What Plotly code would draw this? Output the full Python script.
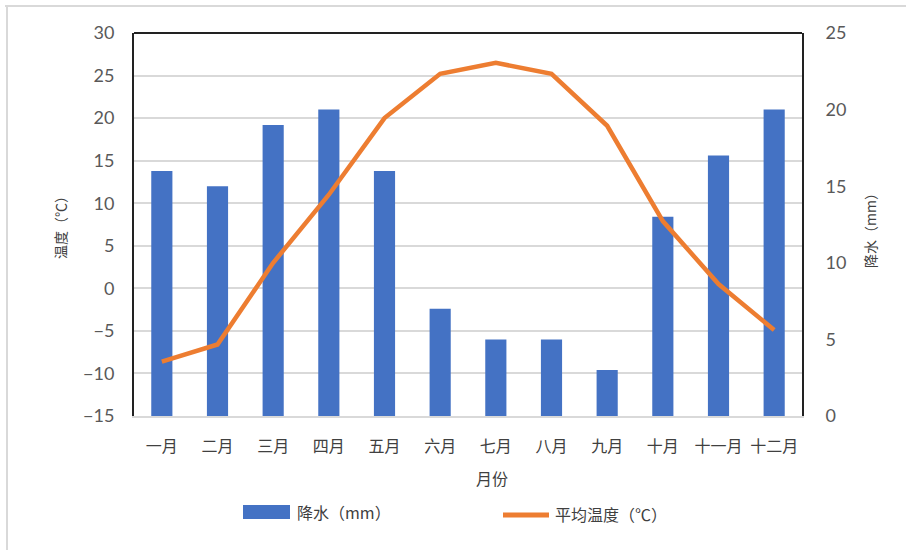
import plotly.graph_objects as go

# Monthly climate data
months = ["一月", "二月", "三月", "四月", "五月", "六月",
          "七月", "八月", "九月", "十月", "十一月", "十二月"]
precip_mm = [16, 15, 19, 20, 16, 7, 5, 5, 3, 13, 17, 20]
temp_c = [-8.6, -6.6, 3.0, 11.0, 20.0, 25.2, 26.5, 25.2, 19.1, 7.9, 0.5, -4.9]

temp_ticks = [-15, -10, -5, 0, 5, 10, 15, 20, 25, 30]
precip_ticks = [0, 5, 10, 15, 20, 25]

BLUE = "#4472C4"
ORANGE = "#ED7D31"
CJK = "Noto Sans CJK SC"
NUM = "Lato"

W, H = 906, 550
L, R, T, B = 134, 104, 33, 134
pw, ph = W - L - R, H - T - B


def px(x):
    return (x - L) / pw


def py(y):
    return (H - B - y) / ph


fig = go.Figure()

# precipitation bars on the base (right-hand) axis
fig.add_trace(go.Bar(
    x=months, y=precip_mm, name="降水（mm）", yaxis="y",
    marker=dict(color=BLUE, line=dict(width=0)), width=0.38,
))
# temperature line on the overlaid (left-hand) axis so it sits above the bars
fig.add_trace(go.Scatter(
    x=months, y=temp_c, name="平均温度（℃）", yaxis="y2",
    mode="lines", line=dict(color=ORANGE, width=4.5),
))

fig.update_layout(
    width=W, height=H,
    margin=dict(l=L, r=R, t=T, b=B, autoexpand=False),
    paper_bgcolor="white", plot_bgcolor="white",
    showlegend=False,
    xaxis=dict(
        categoryorder="array", categoryarray=months,
        showgrid=False, showline=True, linecolor="#d9d9d9", linewidth=1.5,
        ticks="", tickfont=dict(family=CJK, size=16, color="#404040"),
        ticklabelstandoff=15,
    ),
    yaxis=dict(
        range=[0, 25], tickvals=precip_ticks, side="right",
        showgrid=False, zeroline=False,
        showline=True, linecolor="#222222", linewidth=2,
        ticks="", tickfont=dict(family=NUM, size=18, color="#595959"),
        ticklabelstandoff=18,
    ),
    yaxis2=dict(
        range=[-15, 30], tickvals=temp_ticks, overlaying="y", side="left",
        showgrid=True, gridcolor="#d9d9d9", gridwidth=1.5, zeroline=False,
        showline=True, linecolor="#222222", linewidth=2,
        ticks="", tickfont=dict(family=NUM, size=18, color="#595959"),
        ticklabelstandoff=14,
    ),
    barmode="overlay",
)

shapes = [
    # top edge of plot frame
    dict(type="line", xref="paper", yref="paper", x0=0, x1=1, y0=1, y1=1,
         line=dict(color="#222222", width=2)),
    # chart outer border (top and left)
    dict(type="line", xref="paper", yref="paper", x0=px(5), x1=px(906),
         y0=py(6), y1=py(6), line=dict(color="#d9d9d9", width=2)),
    dict(type="line", xref="paper", yref="paper", x0=px(7), x1=px(7),
         y0=py(6), y1=py(550), line=dict(color="#d9d9d9", width=2)),
    # legend swatches
    dict(type="rect", xref="paper", yref="paper", x0=px(243), x1=px(290),
         y0=py(505), y1=py(519), fillcolor=BLUE, line=dict(width=0)),
    dict(type="line", xref="paper", yref="paper", x0=px(503), x1=px(549),
         y0=py(515), y1=py(515), line=dict(color=ORANGE, width=5)),
]
fig.update_layout(shapes=shapes)


def label(text, x, y, size=16, xanchor="center", angle=0):
    return dict(text=text, x=px(x), y=py(y), xref="paper", yref="paper",
                xanchor=xanchor, yanchor="middle", showarrow=False,
                textangle=angle,
                font=dict(family=CJK, size=size, color="#404040"))


annotations = [
    label("月份", 492, 478),
    label("温度（℃）", 60, 224, size=14, angle=-90),
    label("降水（mm）", 870, 227, size=14, angle=-90),
    label("降水（mm）", 295, 512, xanchor="left"),
    label("平均温度（℃）", 553, 514, xanchor="left"),
]
fig.update_layout(annotations=annotations)

fig.write_html("out.html")
